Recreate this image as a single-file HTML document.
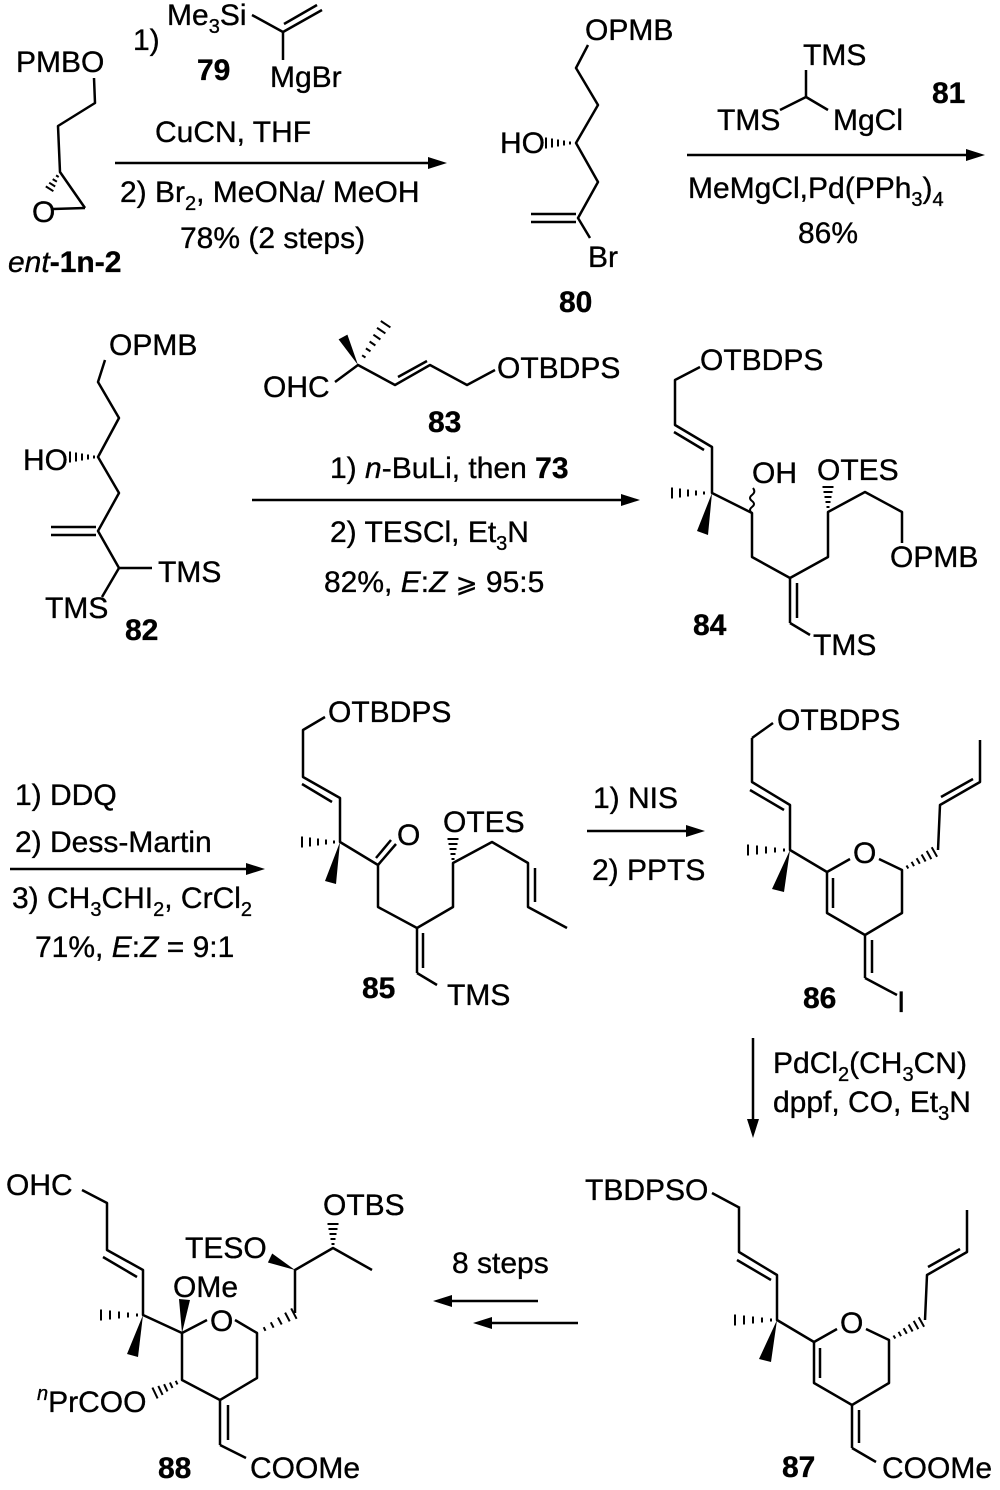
<!DOCTYPE html>
<html><head><meta charset="utf-8"><style>
html,body{margin:0;padding:0;background:#fff;}
svg{display:block;}
text{font-family:"Liberation Sans",Arial,sans-serif;font-size:30px;fill:#000;stroke:#000;stroke-width:0.35px;}
.b{font-weight:bold;}
.bd{stroke:#000;stroke-width:2.5;fill:none;stroke-linejoin:round;}
.h{stroke:#000;stroke-width:2;fill:none;}
.f{fill:#000;stroke:none;}
</style></head><body>
<svg width="1000" height="1490" viewBox="0 0 1000 1490" xmlns="http://www.w3.org/2000/svg">

<!-- ============ ROW 1 ============ -->
<g class="bd">
<polyline points="94,78 95,103 58,126 60,172 85,208"/>
<line x1="53" y1="209" x2="85" y2="208"/>
<line x1="252" y1="15" x2="283" y2="32"/>
<line x1="283" y1="32" x2="322" y2="10"/>
<line x1="284" y1="24" x2="317" y2="5"/>
<line x1="283" y1="32" x2="283" y2="60"/>
<line x1="115" y1="163" x2="430" y2="163"/>
<polyline points="588,45 576,68 598,105 576,143 598,182 578,218 590,238"/>
<line x1="531" y1="214" x2="576" y2="214"/>
<line x1="531" y1="222" x2="576" y2="222"/>
<line x1="806" y1="70" x2="806" y2="97"/>
<polyline points="780,110 806,97 828,110"/>
<line x1="687" y1="155" x2="967" y2="155"/>
</g>
<polygon class="f" points="447,163 428,157 428,169"/>
<polygon class="f" points="985,155 966,149 966,161"/>
<g class="h">
<line x1="56.1" y1="175.4" x2="58.7" y2="177"/>
<line x1="52.7" y1="179.1" x2="56.9" y2="181.7"/>
<line x1="49.2" y1="182.7" x2="55.2" y2="186.5"/>
<line x1="45.8" y1="186.4" x2="53.4" y2="191.2"/>
<line x1="570" y1="141.5" x2="570" y2="144.5"/>
<line x1="564" y1="140.5" x2="564" y2="145.5"/>
<line x1="558" y1="139.5" x2="558" y2="146.5"/>
<line x1="552" y1="138.5" x2="552" y2="147.5"/>
<line x1="546" y1="137.5" x2="546" y2="148.5"/>
</g>

<text x="16" y="72">PMBO</text>
<text x="32" y="222">O</text>
<text x="8" y="272"><tspan font-style="italic">ent</tspan><tspan font-weight="bold">-1n-2</tspan></text>
<text x="133" y="50">1)</text>
<text x="167" y="25">Me<tspan font-size="20" dy="8">3</tspan><tspan dy="-8">Si</tspan></text>
<text x="270" y="87">MgBr</text>
<text x="197" y="80" class="b">79</text>
<text x="155" y="142">CuCN, THF</text>
<text x="120" y="202">2) Br<tspan font-size="20" dy="8">2</tspan><tspan dy="-8">, MeONa/ MeOH</tspan></text>
<text x="180" y="248">78% (2 steps)</text>

<text x="585" y="40">OPMB</text>
<text x="500" y="153">HO</text>
<text x="588" y="267">Br</text>
<text x="559" y="312" class="b">80</text>

<text x="803" y="65">TMS</text>
<text x="717" y="130">TMS</text>
<text x="833" y="130">MgCl</text>
<text x="932" y="103" class="b">81</text>
<text x="688" y="198">MeMgCl,Pd(PPh<tspan font-size="20" dy="8">3</tspan><tspan dy="-8">)</tspan><tspan font-size="20" dy="8">4</tspan></text>
<text x="798" y="243">86%</text>

<!-- ============ ROW 2 ============ -->
<g class="bd">
<polyline points="105,360 98,382 119,418 98,457 119,493 98,531 119,568 152,568"/>
<line x1="51" y1="527" x2="96" y2="527"/>
<line x1="51" y1="535" x2="96" y2="535"/>
<line x1="119" y1="568" x2="102" y2="597"/>
<polyline points="335,382 358,365 395,385 430,365 467,385 495,370"/>
<line x1="398" y1="377" x2="427" y2="361"/>
<line x1="252" y1="500" x2="622" y2="500"/>
<polyline points="700,367 675,380 675,425 712,447 712,493 752,513 752,557 790,578 828,557 828,512 865,492 902,512 902,543"/>
<line x1="674" y1="432" x2="704" y2="450"/>
<line x1="790" y1="578" x2="790" y2="623"/>
<line x1="797" y1="583" x2="797" y2="618"/>
<line x1="790" y1="623" x2="810" y2="635"/>
</g>
<path d="M752,513 q-4,-3 0,-6 q4,-3 0,-6 q-4,-3 0,-6 q4,-3 1,-7" stroke="#000" stroke-width="2" fill="none"/>
<polygon class="f" points="640,500 621,494 621,506"/>
<polygon class="f" points="358,365 347.4,334.6 338.6,339.4"/>
<polygon class="f" points="712,493 697,531 708,535"/>
<g class="h">
<line x1="94" y1="455.5" x2="94" y2="458.5"/>
<line x1="88" y1="454.5" x2="88" y2="459.5"/>
<line x1="82" y1="453.5" x2="82" y2="460.5"/>
<line x1="76" y1="452.5" x2="76" y2="461.5"/>
<line x1="70" y1="451.5" x2="70" y2="462.5"/>
<line x1="362.1" y1="355.3" x2="365.5" y2="357.5"/>
<line x1="365.9" y1="348.4" x2="370.5" y2="351.4"/>
<line x1="369.6" y1="341.5" x2="375.4" y2="345.5"/>
<line x1="373.4" y1="334.7" x2="380.4" y2="339.5"/>
<line x1="377" y1="327.8" x2="385.4" y2="333.4"/>
<line x1="380.8" y1="321" x2="390.4" y2="327.4"/>
<line x1="704" y1="491.5" x2="704" y2="494.5"/>
<line x1="696" y1="490.5" x2="696" y2="495.5"/>
<line x1="688" y1="489.5" x2="688" y2="496.5"/>
<line x1="680" y1="488.5" x2="680" y2="497.5"/>
<line x1="672" y1="487.5" x2="672" y2="498.5"/>
<line x1="826.5" y1="507" x2="829.5" y2="507"/>
<line x1="825.5" y1="502" x2="830.5" y2="502"/>
<line x1="824.5" y1="497" x2="831.5" y2="497"/>
<line x1="823.5" y1="492" x2="832.5" y2="492"/>
<line x1="822.5" y1="487" x2="833.5" y2="487"/>
</g>

<text x="109" y="355">OPMB</text>
<text x="23" y="470">HO</text>
<text x="158" y="582">TMS</text>
<text x="45" y="618">TMS</text>
<text x="125" y="640" class="b">82</text>
<text x="263" y="397">OHC</text>
<text x="497" y="378">OTBDPS</text>
<text x="428" y="432" class="b">83</text>
<text x="330" y="478">1) <tspan font-style="italic">n</tspan>-BuLi, then <tspan font-weight="bold">73</tspan></text>
<text x="330" y="542">2) TESCl, Et<tspan font-size="20" dy="8">3</tspan><tspan dy="-8">N</tspan></text>
<text x="324" y="592">82%, <tspan font-style="italic">E</tspan>:<tspan font-style="italic">Z</tspan> <tspan font-family="DejaVu Sans, Liberation Sans, sans-serif" font-size="26">⩾</tspan> 95:5</text>

<text x="700" y="370">OTBDPS</text>
<text x="752" y="483">OH</text>
<text x="817" y="480">OTES</text>
<text x="890" y="567">OPMB</text>
<text x="813" y="655">TMS</text>
<text x="693" y="635" class="b">84</text>

<!-- ============ ROW 3 ============ -->
<g class="bd">
<line x1="10" y1="869" x2="247" y2="869"/>
<polyline points="325,717 303,730 303,777 340,798 340,842 378,865 378,907 417,928 453,907 453,863 492,842 528,863 528,907 567,928"/>
<line x1="302" y1="784" x2="332" y2="802"/>
<line x1="378" y1="865" x2="396" y2="844"/>
<line x1="376" y1="858" x2="391" y2="840"/>
<line x1="417" y1="928" x2="417" y2="973"/>
<line x1="423" y1="933" x2="423" y2="968"/>
<line x1="417" y1="973" x2="437" y2="985"/>
<line x1="535" y1="868" x2="535" y2="902"/>
<line x1="587" y1="831" x2="687" y2="831"/>
<line x1="773" y1="723" x2="752" y2="738"/>
<line x1="865" y1="978" x2="897" y2="995"/>
<line x1="753" y1="1038" x2="753" y2="1120"/>
</g>
<polygon class="f" points="265,869 246,863 246,875"/>
<polygon class="f" points="705,831 686,825 686,837"/>
<polygon class="f" points="753,1138 747,1119 759,1119"/>
<polygon class="f" points="340,842 325,881 336,884"/>
<g class="h">
<line x1="334" y1="840.5" x2="334" y2="843.5"/>
<line x1="326" y1="839.5" x2="326" y2="844.5"/>
<line x1="318" y1="838.5" x2="318" y2="845.5"/>
<line x1="310" y1="837.5" x2="310" y2="846.5"/>
<line x1="302" y1="836.5" x2="302" y2="847.5"/>
<line x1="451.5" y1="859" x2="454.5" y2="859"/>
<line x1="450.5" y1="854" x2="455.5" y2="854"/>
<line x1="449.5" y1="849" x2="456.5" y2="849"/>
<line x1="448.5" y1="844" x2="457.5" y2="844"/>
<line x1="447.5" y1="839" x2="458.5" y2="839"/>
</g>

<!-- core of 86 -->
<g>
<g class="bd">
<polyline points="752,738 752,782 790,805 790,850 827,872 850,859"/>
<line x1="750" y1="790" x2="784" y2="810"/>
<polyline points="879,859 902,870 902,913 865,935 827,913 827,872"/>
<line x1="833" y1="878" x2="833" y2="908"/>
<line x1="865" y1="935" x2="865" y2="978"/>
<line x1="872" y1="940" x2="872" y2="973"/>
<polyline points="938,850 940,805 980,782 980,740"/>
<line x1="941" y1="797" x2="973" y2="779"/>
</g>
<polygon class="f" points="790,850 772,889 784,892"/>
<g class="h">
<line x1="784" y1="848.5" x2="784" y2="851.5"/>
<line x1="775" y1="847.5" x2="775" y2="852.5"/>
<line x1="766" y1="846.5" x2="766" y2="853.5"/>
<line x1="757" y1="845.5" x2="757" y2="854.5"/>
<line x1="748" y1="844.5" x2="748" y2="855.5"/>
<line x1="906.5" y1="865.5" x2="908.3" y2="868.5"/>
<line x1="911.6" y1="861.8" x2="914" y2="866.2"/>
<line x1="916.6" y1="858.2" x2="919.8" y2="863.8"/>
<line x1="921.6" y1="854.5" x2="925.6" y2="861.5"/>
<line x1="926.7" y1="850.9" x2="931.3" y2="859.1"/>
<line x1="931.7" y1="847.2" x2="937.1" y2="856.8"/>
</g>
</g>

<text x="15" y="805">1) DDQ</text>
<text x="15" y="852">2) Dess-Martin</text>
<text x="12" y="908">3) CH<tspan font-size="20" dy="8">3</tspan><tspan dy="-8">CHI</tspan><tspan font-size="20" dy="8">2</tspan><tspan dy="-8">, CrCl</tspan><tspan font-size="20" dy="8">2</tspan></text>
<text x="35" y="957">71%, <tspan font-style="italic">E</tspan>:<tspan font-style="italic">Z</tspan> = 9:1</text>

<text x="328" y="722">OTBDPS</text>
<text x="397" y="845">O</text>
<text x="443" y="832">OTES</text>
<text x="447" y="1005">TMS</text>
<text x="362" y="998" class="b">85</text>

<text x="593" y="808">1) NIS</text>
<text x="592" y="880">2) PPTS</text>

<text x="777" y="730">OTBDPS</text>
<text x="853" y="863">O</text>
<text x="897" y="1012">I</text>
<text x="803" y="1008" class="b">86</text>

<text x="773" y="1073">PdCl<tspan font-size="20" dy="8">2</tspan><tspan dy="-8">(CH</tspan><tspan font-size="20" dy="8">3</tspan><tspan dy="-8">CN)</tspan></text>
<text x="773" y="1112">dppf, CO, Et<tspan font-size="20" dy="8">3</tspan><tspan dy="-8">N</tspan></text>

<!-- ============ ROW 4 ============ -->
<!-- 87 -->
<g transform="translate(-13,470)">
<g class="bd">
<polyline points="752,738 752,782 790,805 790,850 827,872 850,859"/>
<line x1="750" y1="790" x2="784" y2="810"/>
<polyline points="879,859 902,870 902,913 865,935 827,913 827,872"/>
<line x1="833" y1="878" x2="833" y2="908"/>
<line x1="865" y1="935" x2="865" y2="978"/>
<line x1="872" y1="940" x2="872" y2="973"/>
<polyline points="938,850 940,805 980,782 980,740"/>
<line x1="941" y1="797" x2="973" y2="779"/>
</g>
<polygon class="f" points="790,850 772,889 784,892"/>
<g class="h">
<line x1="784" y1="848.5" x2="784" y2="851.5"/>
<line x1="775" y1="847.5" x2="775" y2="852.5"/>
<line x1="766" y1="846.5" x2="766" y2="853.5"/>
<line x1="757" y1="845.5" x2="757" y2="854.5"/>
<line x1="748" y1="844.5" x2="748" y2="855.5"/>
<line x1="906.5" y1="865.5" x2="908.3" y2="868.5"/>
<line x1="911.6" y1="861.8" x2="914" y2="866.2"/>
<line x1="916.6" y1="858.2" x2="919.8" y2="863.8"/>
<line x1="921.6" y1="854.5" x2="925.6" y2="861.5"/>
<line x1="926.7" y1="850.9" x2="931.3" y2="859.1"/>
<line x1="931.7" y1="847.2" x2="937.1" y2="856.8"/>
</g>
</g>
<g class="bd">
<line x1="712" y1="1193" x2="740" y2="1208"/>
<line x1="852" y1="1448" x2="876" y2="1462"/>
</g>
<text x="585" y="1200">TBDPSO</text>
<text x="840" y="1333">O</text>
<text x="882" y="1478">COOMe</text>
<text x="782" y="1477" class="b">87</text>

<!-- 88 -->
<g class="bd">
<polyline points="82,1190 107,1203 107,1250 143,1270 143,1315 182,1333 207,1320"/>
<line x1="103" y1="1257" x2="137" y2="1277"/>
<polyline points="235,1320 257,1333 257,1378 220,1400 182,1380 182,1333"/>
<line x1="220" y1="1400" x2="220" y2="1445"/>
<line x1="228" y1="1405" x2="228" y2="1440"/>
<line x1="220" y1="1445" x2="246" y2="1458"/>
<polyline points="295,1313 295,1270 333,1248 372,1270"/>
<line x1="538" y1="1301" x2="450" y2="1301"/>
<line x1="578" y1="1323" x2="490" y2="1323"/>
</g>
<polygon class="f" points="433,1301 452,1295 452,1307"/>
<polygon class="f" points="473,1323 492,1317 492,1329"/>
<polygon class="f" points="143,1315 127,1354 138,1357"/>
<polygon class="f" points="182,1333 179,1299 190,1300"/>
<polygon class="f" points="295,1270 272.2,1253.5 267.9,1262.5"/>
<g class="h">
<line x1="137" y1="1313.5" x2="137" y2="1316.5"/>
<line x1="128" y1="1312.5" x2="128" y2="1317.5"/>
<line x1="119" y1="1311.5" x2="119" y2="1318.5"/>
<line x1="110" y1="1310.5" x2="110" y2="1319.5"/>
<line x1="101" y1="1309.5" x2="101" y2="1320.5"/>
<line x1="175.7" y1="1380.8" x2="177.5" y2="1384.4"/>
<line x1="169.9" y1="1382.5" x2="172.5" y2="1387.9"/>
<line x1="164.1" y1="1384.2" x2="167.5" y2="1391.4"/>
<line x1="158.3" y1="1385.9" x2="162.6" y2="1394.9"/>
<line x1="152.4" y1="1387.6" x2="157.6" y2="1398.4"/>
<line x1="263.7" y1="1327.2" x2="265.5" y2="1330.8"/>
<line x1="270.8" y1="1322.3" x2="273.6" y2="1327.7"/>
<line x1="277.9" y1="1317.5" x2="281.7" y2="1324.5"/>
<line x1="285.1" y1="1312.6" x2="289.7" y2="1321.4"/>
<line x1="291.2" y1="1308.4" x2="296.6" y2="1318.8"/>
<line x1="331.5" y1="1244" x2="334.5" y2="1244"/>
<line x1="330.5" y1="1239" x2="335.5" y2="1239"/>
<line x1="329.5" y1="1234" x2="336.5" y2="1234"/>
<line x1="328.5" y1="1229" x2="337.5" y2="1229"/>
<line x1="327.5" y1="1224" x2="338.5" y2="1224"/>
</g>
<text x="6" y="1195">OHC</text>
<text x="173" y="1297">OMe</text>
<text x="210" y="1331">O</text>
<text x="185" y="1258">TESO</text>
<text x="323" y="1215">OTBS</text>
<text x="37" y="1412"><tspan font-size="20" font-style="italic" dy="-12">n</tspan><tspan dy="12">PrCOO</tspan></text>
<text x="250" y="1478">COOMe</text>
<text x="158" y="1478" class="b">88</text>
<text x="452" y="1273">8 steps</text>

</svg>
</body></html>
